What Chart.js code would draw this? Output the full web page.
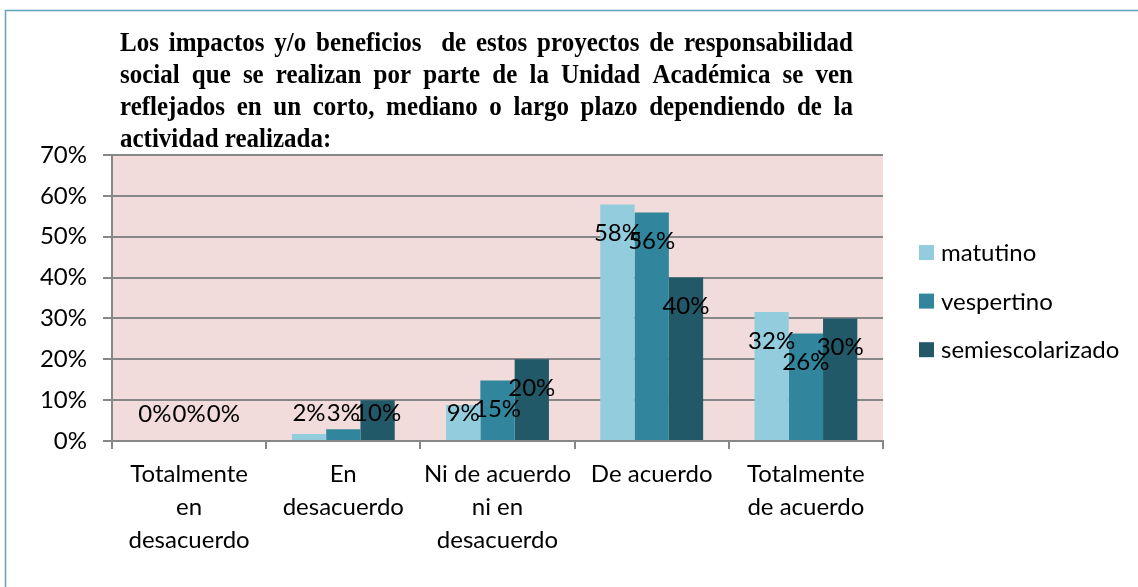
<!DOCTYPE html>
<html>
<head>
<meta charset="utf-8">
<script src="https://cdn.jsdelivr.net/npm/chart.js@4.4.1/dist/chart.umd.min.js"></script>
<style>
  html, body { margin: 0; padding: 0; background: #fff; }
  #wrap { width: 1138px; height: 587px; position: relative; }
</style>
</head>
<body>
<div id="wrap"><canvas id="grafico"></canvas></div>
<script>
// datos
const categorias = [
  ['Totalmente', 'en', 'desacuerdo'],
  ['En', 'desacuerdo'],
  ['Ni de acuerdo', 'ni en', 'desacuerdo'],
  'De acuerdo',
  ['Totalmente', 'de acuerdo']
];
const matutino = [0, 0.017, 0.088, 0.579, 0.316];
const vespertino = [0, 0.029, 0.148, 0.559, 0.263];
const semiescolarizado = [0, 0.10, 0.20, 0.40, 0.30];
const series = ['matutino', 'vespertino', 'semiescolarizado'];
const colores = ['#93CDDD', '#31859C', '#215968'];
const tituloLineas = [
  'Los impactos y/o beneficios  de estos proyectos de responsabilidad',
  'social que se realizan por parte de la Unidad Académica se ven',
  'reflejados en un corto, mediano o largo plazo dependiendo de la',
  'actividad realizada:'
];

const GRIS = '#878787';

// fondo del area y marco
const fondo = {
  id: 'fondo',
  beforeDraw(chart) {
    const { ctx, chartArea: a } = chart;
    ctx.save();
    ctx.fillStyle = '#F2DCDB';
    ctx.fillRect(a.left, a.top, a.right - a.left, a.bottom - a.top);
    ctx.strokeStyle = '#5FA3B9';
    ctx.lineWidth = 1.5;
    ctx.beginPath();
    ctx.moveTo(5.5, 587);
    ctx.lineTo(5.5, 10.5);
    ctx.lineTo(1138, 10.5);
    ctx.stroke();
    ctx.restore();
  }
};

// etiquetas de porcentaje dentro de las barras
const etiquetas = {
  id: 'etiquetas',
  afterDatasetsDraw(chart) {
    const ctx = chart.ctx;
    ctx.save();
    ctx.font = '24px Lato';
    ctx.fillStyle = '#000';
    ctx.textAlign = 'center';
    ctx.textBaseline = 'middle';
    chart.data.datasets.forEach((ds, i) => {
      chart.getDatasetMeta(i).data.forEach((bar, j) => {
        const y = Math.min(bar.y + 29, bar.base - 27);
        ctx.fillText(Math.round(ds.data[j] * 100) + '%', bar.x, y);
      });
    });
    ctx.restore();
  }
};

// titulo justificado y leyenda
const extras = {
  id: 'extras',
  afterDraw(chart) {
    const ctx = chart.ctx;
    ctx.save();
    ctx.fillStyle = '#000';
    ctx.font = 'bold 25px "Liberation Serif"';
    ctx.textBaseline = 'alphabetic';
    ctx.textAlign = 'left';
    const x0 = 120, x1 = 853, sy = 1.1;
    tituloLineas.forEach((linea, k) => {
      const y = 51 + k * 32;
      const palabras = linea.split(' ');
      ctx.save();
      ctx.translate(0, y);
      ctx.scale(1, sy);
      if (k === tituloLineas.length - 1) {
        ctx.fillText(linea, x0, 0);
      } else {
        const total = palabras.reduce((s, p) => s + ctx.measureText(p).width, 0);
        const hueco = (x1 - x0 - total) / (palabras.length - 1);
        let x = x0;
        palabras.forEach(p => {
          ctx.fillText(p, x, 0);
          x += ctx.measureText(p).width + hueco;
        });
      }
      ctx.restore();
    });

    ctx.font = '24px Lato';
    ctx.textBaseline = 'middle';
    chart.data.datasets.forEach((ds, i) => {
      const y = 252.5 + i * 48.6;
      ctx.fillStyle = ds.backgroundColor;
      ctx.fillRect(919, y - 7.5, 15, 15);
      ctx.fillStyle = '#000';
      ctx.fillText(ds.label, 941, y + 1);
    });
    ctx.restore();
  }
};

Chart.defaults.font.family = 'Lato';
Chart.defaults.color = '#000';

new Chart(document.getElementById('grafico'), {
  type: 'bar',
  data: {
    labels: categorias,
    datasets: [matutino, vespertino, semiescolarizado].map((d, i) => ({
      label: series[i],
      data: d,
      backgroundColor: colores[i],
      borderWidth: 0,
      categoryPercentage: 0.667,
      barPercentage: 1
    }))
  },
  options: {
    responsive: true,
    maintainAspectRatio: false,
    animation: false,
    layout: { padding: { top: 155, right: 255, bottom: 0, left: 0 } },
    plugins: {
      legend: { display: false },
      title: { display: false },
      tooltip: { enabled: false }
    },
    scales: {
      x: {
        afterFit(s) { s.height = 146; },
        grid: { offset: true, drawOnChartArea: false, drawTicks: true, tickLength: 8, color: GRIS, lineWidth: 2 },
        border: { display: true, color: GRIS, width: 2 },
        ticks: { font: { size: 24, lineHeight: 1.375 }, padding: 9, maxRotation: 0, autoSkip: false }
      },
      y: {
        min: 0,
        max: 0.7,
        afterFit(s) { s.width = 112; },
        grid: { color: GRIS, lineWidth: 2, tickLength: 9 },
        border: { display: true, color: GRIS, width: 2 },
        ticks: {
          stepSize: 0.1,
          padding: 16,
          font: { size: 24 },
          callback: v => Math.round(v * 100) + '%'
        }
      }
    }
  },
  plugins: [fondo, etiquetas, extras]
});
</script>
</body>
</html>
